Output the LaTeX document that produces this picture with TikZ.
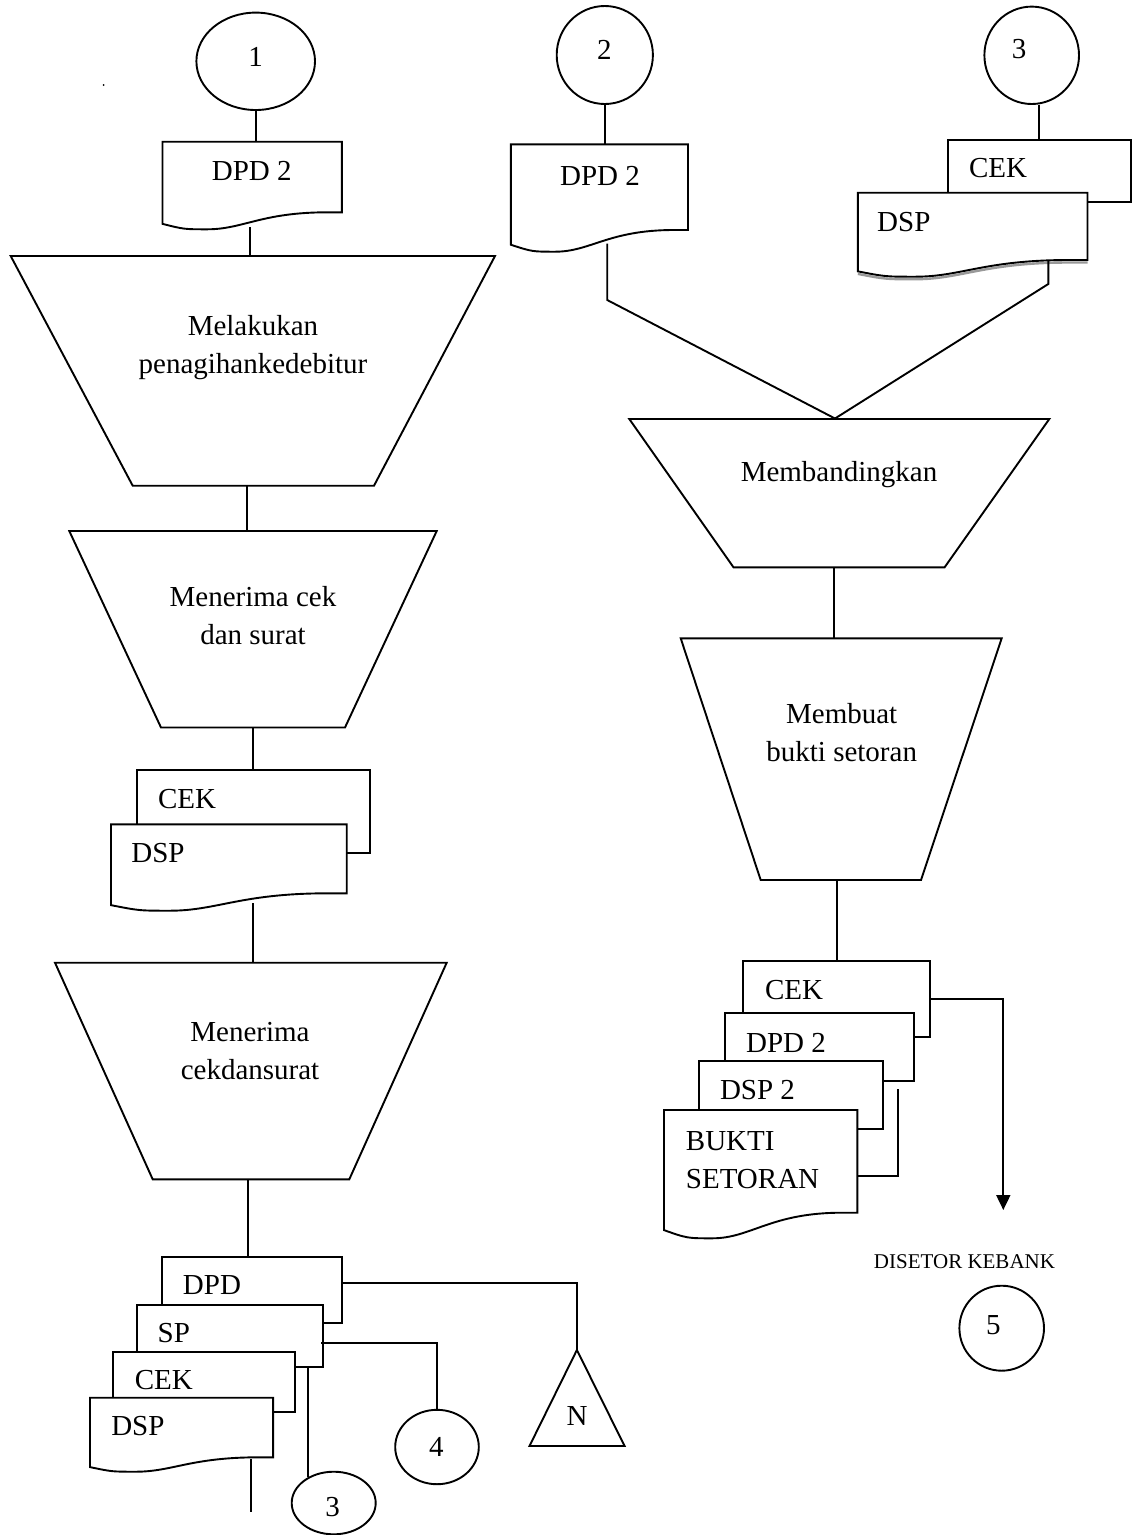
\documentclass[tikz,border=0pt]{standalone}
\usepackage{fontspec}
\setmainfont{Liberation Serif}
\usetikzlibrary{shapes.geometric,arrows.meta}

% document symbol with wavy bottom: left, top, right, bottom (right side), dip
\newcommand{\docshape}[5]{%
  \draw[fill=white] (#1,#2) -- (#3,#2) -- (#3,#4) -- ({#3-0.08*(#3-#1)},#4)
    .. controls ({#1+0.55*(#3-#1)},#4) and ({#1+0.45*(#3-#1)},{#4+#5}) .. ({#1+0.25*(#3-#1)},{#4+#5})
    .. controls ({#1+0.12*(#3-#1)},{#4+#5}) .. (#1,{#4+0.68*#5}) -- cycle;}
% sheet lying behind another document
\newcommand{\sheetshape}[4]{\draw[fill=white] (#1,#2) rectangle (#3,#4);}
% manual operation: top-left x, top-right x, top y, bottom-left x, bottom-right x, bottom y
\newcommand{\procshape}[6]{\draw[fill=white] (#1,#3) -- (#2,#3) -- (#5,#6) -- (#4,#6) -- cycle;}

\begin{document}
\begin{tikzpicture}[x=1pt,y=-1pt,line width=1.9pt,
  lbl/.style={font=\fontsize{29}{38}\selectfont, inner sep=0pt, align=center},
  lblsmall/.style={font=\fontsize{21}{25}\selectfont, inner sep=0pt},
  conn/.style={draw, ellipse, inner sep=0pt, fill=white},
  flow/.style={draw, line width=1.9pt}]
\useasboundingbox[fill=white] (0,0) rectangle (1134,1535);

\fill (103.6,85) circle (1);

% ---------------- left column ----------------
\node[conn, minimum width=118.6, minimum height=97.4] (c1) at (255.7,61.3) {};
\node[lbl] (c1t) at (255.5,57) {1};

\docshape{162.5}{141.7}{341.8}{212.3}{17}
\node[lbl] (d1) at (251.8,170.7) {DPD 2};
\coordinate (d1in) at (255.7,141.7);
\coordinate (d1out) at (250,227);
\draw[flow] (c1.south) -- (d1in);

\procshape{10.7}{495}{256}{132.7}{374}{485.7}
\node[lbl] (p1) at (253,348) {Melakukan\\penagihankedebitur};
\coordinate (p1in) at (250,256);
\coordinate (p1out) at (247.3,485.7);
\draw[flow] (d1out) -- (p1in);

\procshape{69.3}{436.7}{531}{161}{345}{727.5}
\node[lbl] (p2) at (253,615.8) {Menerima cek\\dan surat};
\coordinate (p2in) at (247.3,531);
\coordinate (p2out) at (253.3,727.5);
\draw[flow] (p1out) -- (p2in);

\sheetshape{136.7}{770}{370}{852.7}
\node[lbl] (s1) at (187,799) {CEK};
\docshape{111}{824.3}{346.7}{893.3}{17.4}
\node[lbl] (s2) at (158,853.3) {DSP};
\coordinate (s1in) at (253.3,770);
\coordinate (s2out) at (253.3,903);
\draw[flow] (p2out) -- (s1in);

\procshape{55}{446.7}{962.7}{152.7}{349.3}{1179.3}
\node[lbl] (p3) at (250,1051) {Menerima\\cekdansurat};
\coordinate (p3in) at (253.3,962.7);
\coordinate (p3out) at (248.3,1179.3);
\draw[flow] (s2out) -- (p3in);

\sheetshape{162.1}{1256.7}{342}{1323.3}
\node[lbl] (b1) at (212,1285) {DPD};
\sheetshape{136.6}{1305}{323.4}{1367.3}
\node[lbl] (b2) at (173.8,1333.3) {SP};
\sheetshape{113.3}{1352.3}{294.6}{1412.3}
\node[lbl] (b3) at (163.8,1380) {CEK};
\docshape{90}{1397.7}{273.1}{1457.3}{14.4}
\node[lbl] (b4) at (137.9,1426) {DSP};
\coordinate (b1in) at (248.3,1256.7);
\draw[flow] (p3out) -- (b1in);

% off-page and archive symbols
\draw (576.9,1350) -- (624.6,1446) -- (529.5,1446) -- cycle;
\coordinate (napex) at (576.9,1350);
\node[lbl] (nlab) at (577,1416) {N};
\node[conn, minimum width=83.6, minimum height=74.4] (c4) at (437,1447) {};
\node[lbl] (c4t) at (436.3,1446.7) {4};
\node[conn, minimum width=84, minimum height=62.6] (c3b) at (333.7,1503) {};
\node[lbl] (c3bt) at (332.7,1506.7) {3};

\coordinate (b1out) at (342,1282.7);
\coordinate (b2out) at (321,1342.7);
\coordinate (b2low) at (308.3,1368.3);
\coordinate (c3att) at (308.3,1477);
\coordinate (b4out) at (250.9,1459);
\coordinate (b4end) at (250.9,1511.7);
\draw[flow] (b1out) -| (napex);
\draw[flow] (b2out) -| (c4.north);
\draw[flow] (b2low) -- (c3att);
\draw[flow] (b4out) -- (b4end);

% ---------------- right column ----------------
\node[conn, minimum width=96.2, minimum height=98] (c2) at (604.8,55) {};
\node[lbl] (c2t) at (604.3,50) {2};
\docshape{510.9}{144.3}{688}{230}{21.7}
\node[lbl] (d2) at (600,176) {DPD 2};
\coordinate (d2in) at (604.8,144.3);
\coordinate (d2out) at (607.2,243.5);
\coordinate (d2bend) at (607.2,300);
\draw[flow] (c2.south) -- (d2in);

\node[conn, minimum width=94.6, minimum height=97.4] (c3t) at (1031.7,55.3) {};
\node[lbl] (c3tt) at (1019,49) {3};
\sheetshape{948}{140}{1130.8}{201.7}
\node[lbl] (e1) at (998,168.3) {CEK};
\coordinate (e1in) at (1039,140);
\draw[flow] ([xshift=7.3pt]c3t.south) -- (e1in);
% soft shadow under the DSP sheet
\draw[black!40, line width=2.4pt] (1087.5,262.5) -- (1069,262.5)
  .. controls (984.2,262.5) and (961.2,279.2) .. (915.3,279.2)
  .. controls (885.5,279.2) .. (857.9,273.9);
\docshape{857.9}{192.7}{1087.5}{260}{16.7}
\node[lbl] (e2) at (903.8,221.7) {DSP};
\coordinate (e2out) at (1048.3,261);
\coordinate (e2bend) at (1048.3,284);

\procshape{629.3}{1049.3}{419}{733.5}{944.6}{567.3}
\node[lbl] (p4) at (839,475) {Membandingkan};
\coordinate (p4in) at (835,418.5);
\coordinate (p4out) at (834,567.3);
\draw[flow] (d2out) -- (d2bend) -- (p4in);
\draw[flow] (e2out) -- (e2bend) -- (p4in);

\procshape{680.7}{1001.7}{638.3}{760.7}{921}{880}
\node[lbl] (p5) at (841.7,732.5) {Membuat\\bukti setoran};
\coordinate (p5in) at (834,638.3);
\coordinate (p5out) at (836.7,880);
\draw[flow] (p4out) -- (p5in);

\sheetshape{743.3}{960.7}{930}{1037.3}
\node[lbl] (f1) at (794,990) {CEK};
\sheetshape{725}{1012.7}{914}{1081}
\node[lbl] (f2) at (786,1043.3) {DPD 2};
\sheetshape{699.3}{1061}{882.7}{1129}
\node[lbl] (f3) at (757.5,1090) {DSP 2};
\docshape{664}{1110}{857.3}{1212.7}{25.6}
\node[lbl, align=left, anchor=west] (f4) at (685,1160.5) {BUKTI\\SETORAN};
\coordinate (f1in) at (836.7,960.7);
\draw[flow] (p5out) -- (f1in);

\coordinate (f1out) at (930,999);
\coordinate (banktip) at (1003.3,1210);
\draw[flow, -{Triangle[length=15pt,width=14pt]}] (f1out) -| (banktip);
\coordinate (f4out) at (857.3,1175.7);
\coordinate (f4end) at (898.3,1089);
\draw[flow] (f4out) -| (f4end);

\node[lblsmall] (bank) at (964.5,1262) {DISETOR KEBANK};
\node[conn, minimum width=84.6, minimum height=85] (c5) at (1001.7,1328.2) {};
\node[lbl] (c5t) at (993.3,1325) {5};
\end{tikzpicture}
\end{document}
